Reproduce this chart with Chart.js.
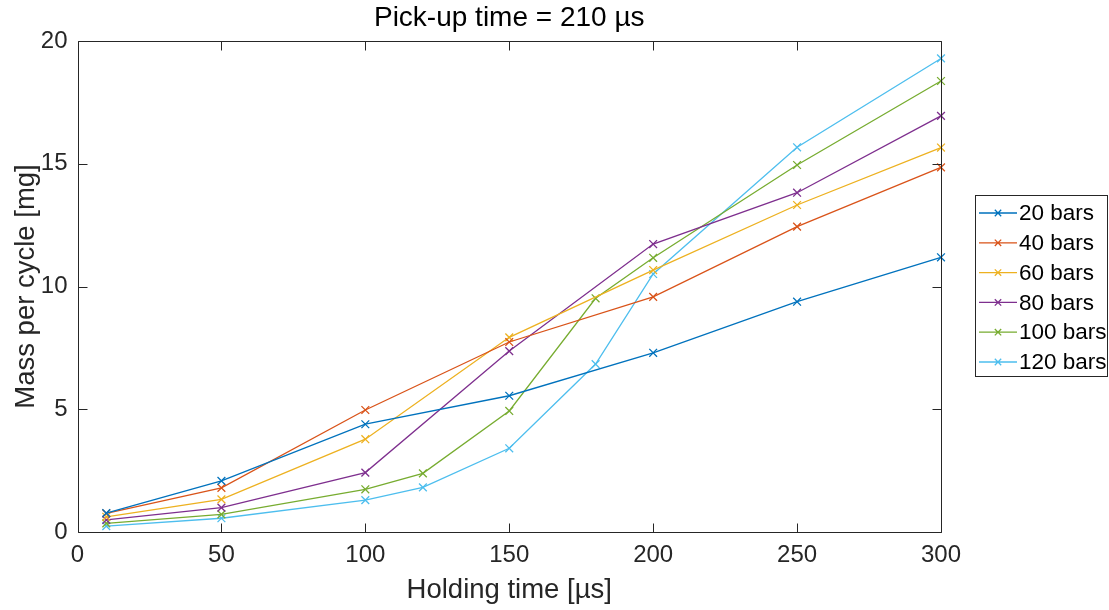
<!DOCTYPE html>
<html>
<head>
<meta charset="utf-8">
<script src="https://cdn.jsdelivr.net/npm/chart.js@4"></script>
<style>
  html, body { margin: 0; padding: 0; background: #fff; }
  #wrap { width: 1109px; height: 610px; }
</style>
</head>
<body>
<div id="wrap"><canvas id="c" width="1109" height="610"></canvas></div>
<script>
// ---- Data ----
const seriesLabels = ["20 bars", "40 bars", "60 bars", "80 bars", "100 bars", "120 bars"];
const seriesColors = ["#0072BD", "#D95319", "#EDB120", "#7E2F8E", "#77AC30", "#4DBEEE"];

const holdA = [10, 50, 100, 150, 200, 250, 300];
const holdB = [10, 50, 100, 120, 150, 180, 200, 250, 300];

const mass20  = [0.77, 2.08, 4.39, 5.55, 7.30, 9.38, 11.19];
const mass40  = [0.76, 1.80, 4.97, 7.74, 9.58, 12.44, 14.85];
const mass60  = [0.62, 1.33, 3.78, 7.93, 10.67, 13.32, 15.66];
const mass80  = [0.49, 0.99, 2.42, 7.37, 11.73, 13.82, 16.95];
const mass100 = [0.35, 0.72, 1.74, 2.39, 4.93, 9.52, 11.17, 14.95, 18.37];
const mass120 = [0.24, 0.56, 1.30, 1.82, 3.41, 6.84, 10.51, 15.67, 19.29];

const xTicks = [0, 50, 100, 150, 200, 250, 300];
const yTicks = [0, 5, 10, 15, 20];

const titleText = "Pick-up time = 210 µs";
const xTitle = "Holding time [µs]";
const yTitle = "Mass per cycle [mg]";

// ---- Build datasets ----
const xsList = [holdA, holdA, holdA, holdA, holdB, holdB];
const ysList = [mass20, mass40, mass60, mass80, mass100, mass120];
const FONT = "'Liberation Sans', Arial, Helvetica, sans-serif";
const AX = "#262626";

const datasets = ysList.map((ys, i) => ({
  label: seriesLabels[i],
  data: ys.map((v, j) => ({ x: xsList[i][j], y: v })),
  borderColor: seriesColors[i],
  backgroundColor: seriesColors[i],
  borderWidth: 1.3,
  pointStyle: 'crossRot',
  pointRadius: 5.5,
  pointHoverRadius: 5.5,
  pointBorderWidth: 1.3,
  tension: 0,
  fill: false,
  clip: false
}));

// Inward ticks, box, and legend
const matlabAxes = {
  id: 'matlabAxes',
  afterDraw(chart) {
    const ctx = chart.ctx;
    const ca = chart.chartArea;
    const xs = chart.scales.x, ys = chart.scales.y;
    const L = Math.round(ca.left) + 0.5, R = Math.round(ca.right) + 0.5;
    const T = Math.round(ca.top) + 0.5, B = Math.round(ca.bottom) + 0.5;
    ctx.save();
    ctx.strokeStyle = AX;
    ctx.lineWidth = 1;
    ctx.beginPath();
    ctx.rect(L, T, R - L, B - T);
    ctx.stroke();
    const tl = 9;
    ctx.beginPath();
    xTicks.forEach(v => {
      const p = Math.round(xs.getPixelForValue(v)) + 0.5;
      ctx.moveTo(p, B); ctx.lineTo(p, B - tl);
      ctx.moveTo(p, T); ctx.lineTo(p, T + tl);
    });
    yTicks.forEach(v => {
      const p = Math.round(ys.getPixelForValue(v)) + 0.5;
      ctx.moveTo(L, p); ctx.lineTo(L + tl, p);
      ctx.moveTo(R, p); ctx.lineTo(R - tl, p);
    });
    ctx.stroke();

    // Legend
    const lx = 975.5, ly = 195.5, lw = 132, lh = 181;
    ctx.fillStyle = '#fff';
    ctx.fillRect(lx, ly, lw, lh);
    ctx.strokeStyle = AX;
    ctx.strokeRect(lx, ly, lw, lh);
    ctx.font = "22.5px " + FONT;
    ctx.textBaseline = 'middle';
    ctx.textAlign = 'left';
    chart.data.datasets.forEach((ds, i) => {
      const y = 213 + i * 29.8;
      ctx.strokeStyle = ds.borderColor;
      ctx.lineWidth = 1.3;
      ctx.beginPath();
      ctx.moveTo(979, y); ctx.lineTo(1017, y);
      const r = 3.2;
      ctx.moveTo(998 - r, y - r); ctx.lineTo(998 + r, y + r);
      ctx.moveTo(998 - r, y + r); ctx.lineTo(998 + r, y - r);
      ctx.stroke();
      ctx.fillStyle = '#000';
      ctx.fillText(ds.label, 1019, y + 1);
    });
    ctx.restore();
  }
};

new Chart(document.getElementById('c'), {
  type: 'line',
  data: { datasets },
  options: {
    responsive: false,
    animation: false,
    events: [],
    layout: { padding: { top: 0, right: 168, left: 0, bottom: 0 } },
    plugins: {
      legend: { display: false },
      tooltip: { enabled: false },
      title: {
        display: true,
        fullSize: false,
        text: titleText,
        color: '#000',
        font: { family: FONT, size: 28, weight: 'normal', lineHeight: 1.2 },
        padding: { top: 1, bottom: 6.4 }
      }
    },
    scales: {
      x: {
        type: 'linear',
        min: 0, max: 300,
        afterBuildTicks(scale) { scale.ticks = xTicks.map(v => ({ value: v })); },
        afterFit(scale) { scale.height = 78; },
        grid: { display: false, drawTicks: false },
        border: { display: false },
        ticks: {
          padding: 9,
          color: AX,
          maxRotation: 0,
          font: { family: FONT, size: 24 }
        },
        title: {
          display: true,
          text: xTitle,
          color: AX,
          font: { family: FONT, size: 27.5, lineHeight: 1.2 },
          padding: { top: 0, bottom: 3 }
        }
      },
      y: {
        type: 'linear',
        min: 0, max: 20,
        afterBuildTicks(scale) { scale.ticks = yTicks.map(v => ({ value: v })); },
        afterFit(scale) { scale.width = 77.5; },
        grid: { display: false, drawTicks: false },
        border: { display: false },
        ticks: {
          padding: 10,
          color: AX,
          font: { family: FONT, size: 24 }
        },
        title: {
          display: true,
          text: yTitle,
          color: AX,
          font: { family: FONT, size: 27.5, lineHeight: 1.2 },
          padding: { top: 10, bottom: 0 }
        }
      }
    }
  },
  plugins: [matlabAxes]
});
</script>
</body>
</html>
